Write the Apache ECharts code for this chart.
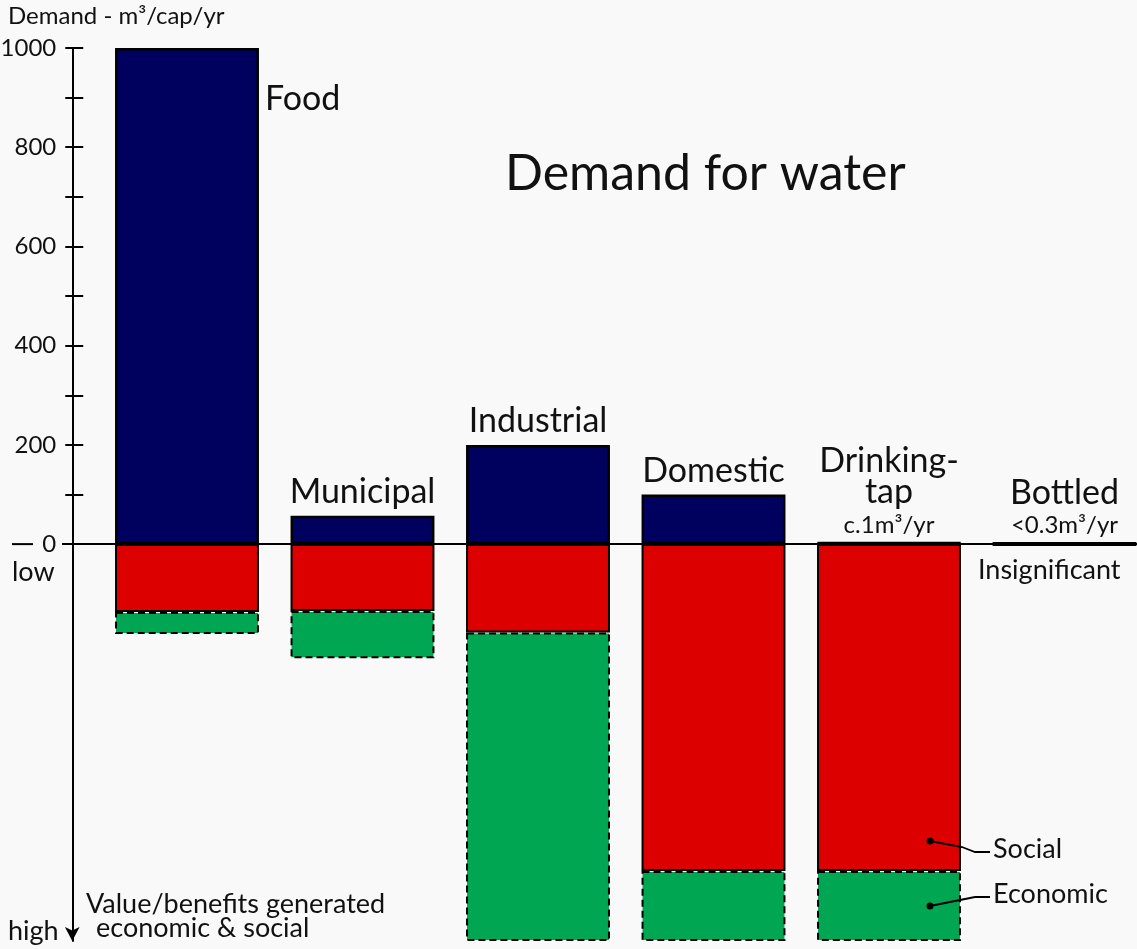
<!DOCTYPE html>
<html>
<head>
<meta charset="utf-8">
<script src="https://cdn.jsdelivr.net/npm/echarts@6/dist/echarts.min.js"></script>
<style>html,body{margin:0;padding:0;background:#f9f9f9}#c{width:1137px;height:949px}</style>
</head>
<body>
<div id="c"></div>
<script>
// ---- data ----
const categories = ['Food', 'Municipal', 'Industrial', 'Domestic', 'Drinking-\ntap', 'Bottled'];
const demand = [1000, 57, 200, 100, 1, 0.3];          // m3/cap/yr
const social = [-137, -135, -178, -659, -659, null];  // value generated (downwards)
const economic = [-44, -95, -622, -141, -141, null];
const demandNotes = ['', '', '', '', 'c.1m³/yr', '<0.3m³/yr'];
const tickValues = [0, 100, 200, 300, 400, 500, 600, 700, 800, 900, 1000];
const labelValues = [0, 200, 400, 600, 800, 1000];
const yMin = -800, yMax = 1000;

const FONT = 'Lato';
const NAVY = '#00005f', RED = '#dd0000', GREEN = '#00a651';

const chart = echarts.init(document.getElementById('c'));

function nameLabel(p) {
  const i = p.dataIndex;
  let s = categories[i].split('\n').map(t => '{name|' + t + '}').join('\n');
  if (demandNotes[i]) s += '\n{note|' + demandNotes[i] + '}';
  return s;
}

const labelDefaults = {
  show: true, position: 'top', distance: 8, formatter: nameLabel,
  rich: {
    name: { fontFamily: FONT, fontSize: 34, lineHeight: 31, color: '#111' },
    note: { fontFamily: FONT, fontSize: 24, lineHeight: 34, color: '#111' }
  }
};

const demandData = demand.map((v, i) => {
  if (i === 0) return { value: v, label: { position: [150, 36] } };
  if (demandNotes[i]) return { value: v, label: { distance: 0 }, itemStyle: { borderWidth: 4 } };
  return v;
});

const yBase = {
  type: 'value', min: yMin, max: yMax, position: 'left', offset: 27,
  splitLine: { show: false }
};

const option = {
  backgroundColor: '#f9f9f9',
  animation: false,
  grid: { left: 99.25, top: 48, width: 1053, bottom: 8, containLabel: false, outerBoundsMode: 'none' },
  xAxis: {
    type: 'category', data: categories,
    axisLine: { onZero: true, lineStyle: { color: '#000', width: 2 } },
    axisTick: { show: false }, axisLabel: { show: false }
  },
  yAxis: [
    Object.assign({}, yBase, {
      axisLine: { show: true, lineStyle: { color: '#000', width: 2 }, symbol: ['arrow', 'none'], symbolSize: [11, 14] },
      axisTick: { show: true, inside: false, length: 7, lineStyle: { color: '#000', width: 2 }, customValues: tickValues },
      axisLabel: { show: true, margin: 16, fontFamily: FONT, fontSize: 24, color: '#111', customValues: labelValues, formatter: v => String(v) }
    }),
    Object.assign({}, yBase, {
      axisLine: { show: false },
      axisTick: { show: true, inside: true, length: 11, lineStyle: { color: '#000', width: 2 }, customValues: tickValues },
      axisLabel: { show: false }
    })
  ],
  series: [
    {
      name: 'Demand', type: 'bar', stack: 'w', barWidth: '82%', data: demandData,
      itemStyle: { color: NAVY, borderColor: '#000', borderWidth: 2.5 },
      label: labelDefaults, z: 3
    },
    {
      name: 'Social', type: 'bar', stack: 'w', barWidth: '82%', data: social,
      itemStyle: { color: RED, borderColor: '#000', borderWidth: 2 }, z: 3
    },
    {
      name: 'Economic', type: 'bar', stack: 'w', barWidth: '82%', data: economic,
      itemStyle: { color: GREEN, borderColor: '#000', borderWidth: 2, borderType: [7, 4] }, z: 2
    }
  ]
};
chart.setOption(option);

const y0 = chart.convertToPixel({ yAxisIndex: 0 }, 0);
const txt = (left, top, text, size) => ({
  type: 'text', left: left, top: top, z: 100,
  style: { text: text, fontFamily: FONT, fontSize: size, fill: '#111' }
});

chart.setOption({
  graphic: [
    txt(8, 4, 'Demand - m³/cap/yr', 24),
    txt(505, 149, 'Demand for water', 50),
    txt(12, 559, 'low', 27),
    txt(8, 918, 'high', 27),
    txt(86, 891, 'Value/benefits generated', 27),
    txt(96, 915, 'economic & social', 27),
    txt(978, 557, 'Insignificant', 27),
    txt(993, 836, 'Social', 27),
    txt(993, 881, 'Economic', 27),
    { type: 'line', z: 100, shape: { x1: 12, y1: y0, x2: 33, y2: y0 }, style: { stroke: '#000', lineWidth: 2 } },
    { type: 'line', z: 100, shape: { x1: 62, y1: y0, x2: 100, y2: y0 }, style: { stroke: '#000', lineWidth: 2 } },
    { type: 'circle', z: 100, shape: { cx: 930, cy: 841, r: 3.5 }, style: { fill: '#000' } },
    { type: 'circle', z: 100, shape: { cx: 930, cy: 906, r: 3.5 }, style: { fill: '#000' } },
    { type: 'polyline', z: 100, shape: { points: [[930, 841], [962, 847], [975, 852], [990, 852]] }, style: { stroke: '#000', lineWidth: 1.8, fill: null } },
    { type: 'polyline', z: 100, shape: { points: [[930, 906], [960, 900], [975, 897], [990, 897]] }, style: { stroke: '#000', lineWidth: 1.8, fill: null } }
  ]
});
</script>
</body>
</html>
